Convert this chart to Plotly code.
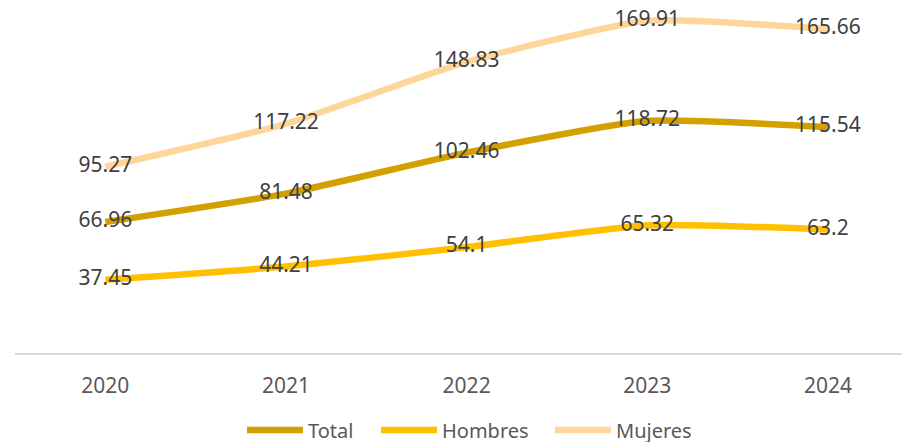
import plotly.graph_objects as go

# Data
years = ["2020", "2021", "2022", "2023", "2024"]
total = [66.96, 81.48, 102.46, 118.72, 115.54]
hombres = [37.45, 44.21, 54.1, 65.32, 63.2]
mujeres = [95.27, 117.22, 148.83, 169.91, 165.66]

COLORS = {
    "total": "#D4A000",
    "hombres": "#FFC000",
    "mujeres": "#FFD699",
    "label": "#404040",
    "axis_text": "#595959",
    "axis_line": "#D9D9D9",
}
FONT = "Noto Sans, Calibri, Arial, sans-serif"

PLOT_LEFT = 15
PLOT_WIDTH = 902 - PLOT_LEFT

series = [
    ("Total", total, COLORS["total"], "legend", 248),
    ("Hombres", hombres, COLORS["hombres"], "legend2", 382),
    ("Mujeres", mujeres, COLORS["mujeres"], "legend3", 556),
]

fig = go.Figure()

legends = {}
for name, values, color, legend_id, left_px in series:
    fig.add_trace(
        go.Scatter(
            x=years,
            y=values,
            name=name,
            legend=legend_id,
            mode="lines+text",
            line={"color": color, "width": 6.5, "shape": "spline", "smoothing": 0.5},
            text=[f"{v:g}" for v in values],
            textposition="middle center",
            textfont={"family": FONT, "size": 21, "color": COLORS["label"]},
            cliponaxis=False,
        )
    )
    # one legend per series so the entries sit where the reference puts them
    legends[legend_id] = {
        "orientation": "h",
        "x": (left_px - PLOT_LEFT - 6) / PLOT_WIDTH,
        "xanchor": "left",
        "y": -0.219,
        "yanchor": "middle",
        "font": {"family": FONT, "size": 20, "color": COLORS["axis_text"]},
        "itemwidth": 56,
        "bgcolor": "rgba(0,0,0,0)",
    }

fig.update_layout(
    width=902,
    height=442,
    plot_bgcolor="white",
    paper_bgcolor="white",
    margin={"t": 1, "b": 89, "l": PLOT_LEFT, "r": 0, "pad": 0, "autoexpand": False},
    xaxis={
        "type": "category",
        "range": [-0.5, 4.41],
        "automargin": False,
        "showgrid": False,
        "showline": True,
        "linecolor": COLORS["axis_line"],
        "linewidth": 2,
        "ticks": "outside",
        "ticklen": 13,
        "tickcolor": "rgba(0,0,0,0)",
        "tickfont": {"family": FONT, "size": 21, "color": COLORS["axis_text"]},
        "zeroline": False,
    },
    yaxis={
        "range": [0, 180],
        "visible": False,
        "automargin": False,
        "showgrid": False,
        "zeroline": False,
    },
    showlegend=True,
    **legends,
)

# the page adds an 8px body margin by default; drop it so the chart fills the window
fig.write_html(
    "out.html",
    config={"displayModeBar": False},
    post_script="document.body.style.margin='0';",
)
